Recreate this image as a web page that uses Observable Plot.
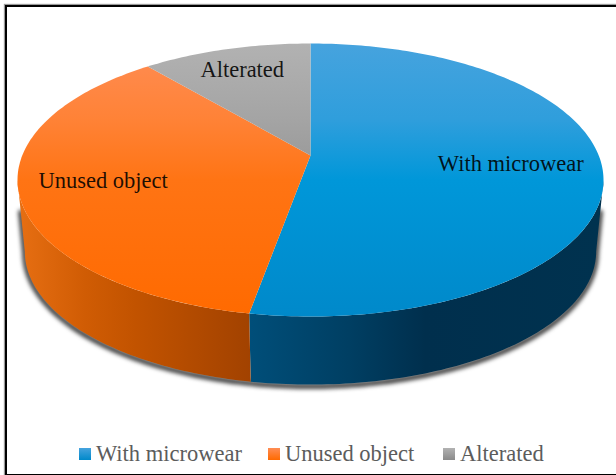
<!DOCTYPE html>
<html>
<head>
<meta charset="utf-8">
<script src="https://cdn.jsdelivr.net/npm/d3@7"></script>
<script src="https://cdn.jsdelivr.net/npm/@observablehq/plot@0.6"></script>
<style>
html,body{margin:0;padding:0;background:#fff;overflow:hidden}
#wrap{position:relative;width:616px;height:475px;overflow:hidden;font-family:"Liberation Serif",serif}
#wrap svg{display:block;background:transparent}
#frame{position:absolute;left:5px;top:5px;width:640px;height:467px;border:2px solid #000;box-shadow:0 0 1px 1px #999;pointer-events:none}
#legend{position:absolute;top:439px;left:0;width:616px;height:30px;font-size:22.5px;color:#5c5c5c;line-height:30px}
.item{position:absolute;top:0;display:flex;align-items:center;white-space:nowrap}
.sw{display:inline-block;width:12px;height:12px;margin-right:5px}
</style>
</head>
<body>
<div id="wrap"><div id="frame"></div><div id="legend"></div></div>
<script>
// Chart values (percent of objects)
const categories = ["With microwear", "Unused object", "Alterated"];
const values = [52.8, 36.1, 11.1];
const labelRadius = [0.69, 0.72, 0.785];
const legendLeft = [79, 268, 443];
const topGradients = [
  ["#46a3de", "#2f9edc", "#0097d9", "#0089ca"],
  ["#ff8d55", "#ff8236", "#ff7414", "#ff6a00"],
  ["#b2b2b2", "#a4a4a4", "#969696", "#8a8a8a"]
];
const sideGradients = [
  ["#004e79", "#003f63", "#002f4d", "#00324f"],
  ["#e66e12", "#d05c04", "#c25300", "#a24200"],
  ["#777777", "#777777", "#777777", "#777777"]
];
const gradientStops = [0, 0.28, 0.5, 1];

// Perspective of the disc: circle centre sits above the outline's centre
const k = 0.18, bottomScale = 0.975, drop = 0.524;
const project = (theta, r = 1) => {
  const c = Math.sin(theta) * r, s = Math.cos(theta) * r, d = 1 + k * s;
  return {u: Math.sqrt(1 - k * k) * c / d, v: (s + k) / d};
};
const lower = p => ({u: p.u * bottomScale, v: p.v * bottomScale - drop});
const between = (p, q, t) => ({u: p.u + (q.u - p.u) * t, v: p.v + (q.v - p.v) * t});

const arcs = d3.pie().sort(null).value(d => d)(values);
const step = Math.PI / 180;
const sweep = (a, b) => {
  const n = Math.max(1, Math.ceil((b - a) / step));
  return d3.range(n + 1).map(i => a + (b - a) * i / n);
};
const thetaRight = Math.acos(-k), thetaLeft = 2 * Math.PI - thetaRight;

const topShapes = arcs.map(a => [{u: 0, v: k}, ...sweep(a.startAngle, a.endAngle).map(t => project(t))]);
const sideShapes = arcs.map(a => {
  const lo = Math.max(a.startAngle, thetaRight), hi = Math.min(a.endAngle, thetaLeft);
  if (lo >= hi) return [];
  const ts = sweep(lo, hi);
  return [...ts.map(t => project(t)), ...ts.slice().reverse().map(t => lower(project(t)))];
});
const shadowStart = t => between(project(t), lower(project(t)), 0.45);
const shadowShape = [
  shadowStart(thetaRight),
  ...sweep(thetaRight, thetaLeft).map(t => lower(project(t))).map(p => ({u: p.u, v: p.v - 0.012})),
  shadowStart(thetaLeft)
];
const labels = arcs.map((a, i) => ({
  name: categories[i],
  ...project((a.startAngle + a.endAngle) / 2, labelRadius[i])
}));

const stopsHtml = colors => colors.map((c, i) => `<stop offset="${gradientStops[i]}" stop-color="${c}"/>`).join("");
const defs = () => d3.create("svg:defs").html(
  topGradients.map((g, i) => `<linearGradient id="top${i}" gradientUnits="userSpaceOnUse" x1="0" x2="0" y1="43" y2="316">${stopsHtml(g)}</linearGradient>`).join("") +
  sideGradients.map((g, i) => i === 0
    ? `<linearGradient id="side${i}" gradientUnits="userSpaceOnUse" x1="250" x2="600" y1="0" y2="0">${stopsHtml(g)}</linearGradient>`
    : `<linearGradient id="side${i}" gradientUnits="userSpaceOnUse" x1="20" x2="250" y1="0" y2="0">${stopsHtml(g)}</linearGradient>`).join("")
).node();

const blurred = (index, scales, channels, dims, context, next) => {
  const g = next(index, scales, channels, dims, context);
  g.style.filter = "blur(2px)";
  return g;
};

const chart = Plot.plot({
  width: 616,
  height: 439,
  margin: 0,
  x: {domain: [-1, 1], range: [17, 603], axis: null},
  y: {domain: [-1, 1], range: [316, 43], axis: null},
  marks: [
    defs,
    Plot.line(shadowShape, {x: "u", y: "v", stroke: "#333", strokeWidth: 5, render: blurred}),
    ...sideShapes.map((s, i) => s.length ?
      Plot.line(s, {x: "u", y: "v", fill: `url(#side${i})`, stroke: "none"}) : null),
    ...topShapes.map((s, i) =>
      Plot.line(s, {x: "u", y: "v", fill: `url(#top${i})`, stroke: "none"})),
    Plot.text(labels, {x: "u", y: "v", text: "name", fontSize: 22.5, fontFamily: "Liberation Serif", fill: "#000", fillOpacity: 0.88})
  ]
});
const wrap = document.getElementById("wrap");
wrap.insertBefore(chart, wrap.firstChild);

const legend = d3.select("#legend");
categories.forEach((name, i) => {
  const item = legend.append("div").attr("class", "item").style("left", legendLeft[i] + "px");
  item.append("span").attr("class", "sw")
    .style("background", `linear-gradient(${topGradients[i][0]},${topGradients[i][3]})`);
  item.append("span").text(name);
});
</script>
</body>
</html>
